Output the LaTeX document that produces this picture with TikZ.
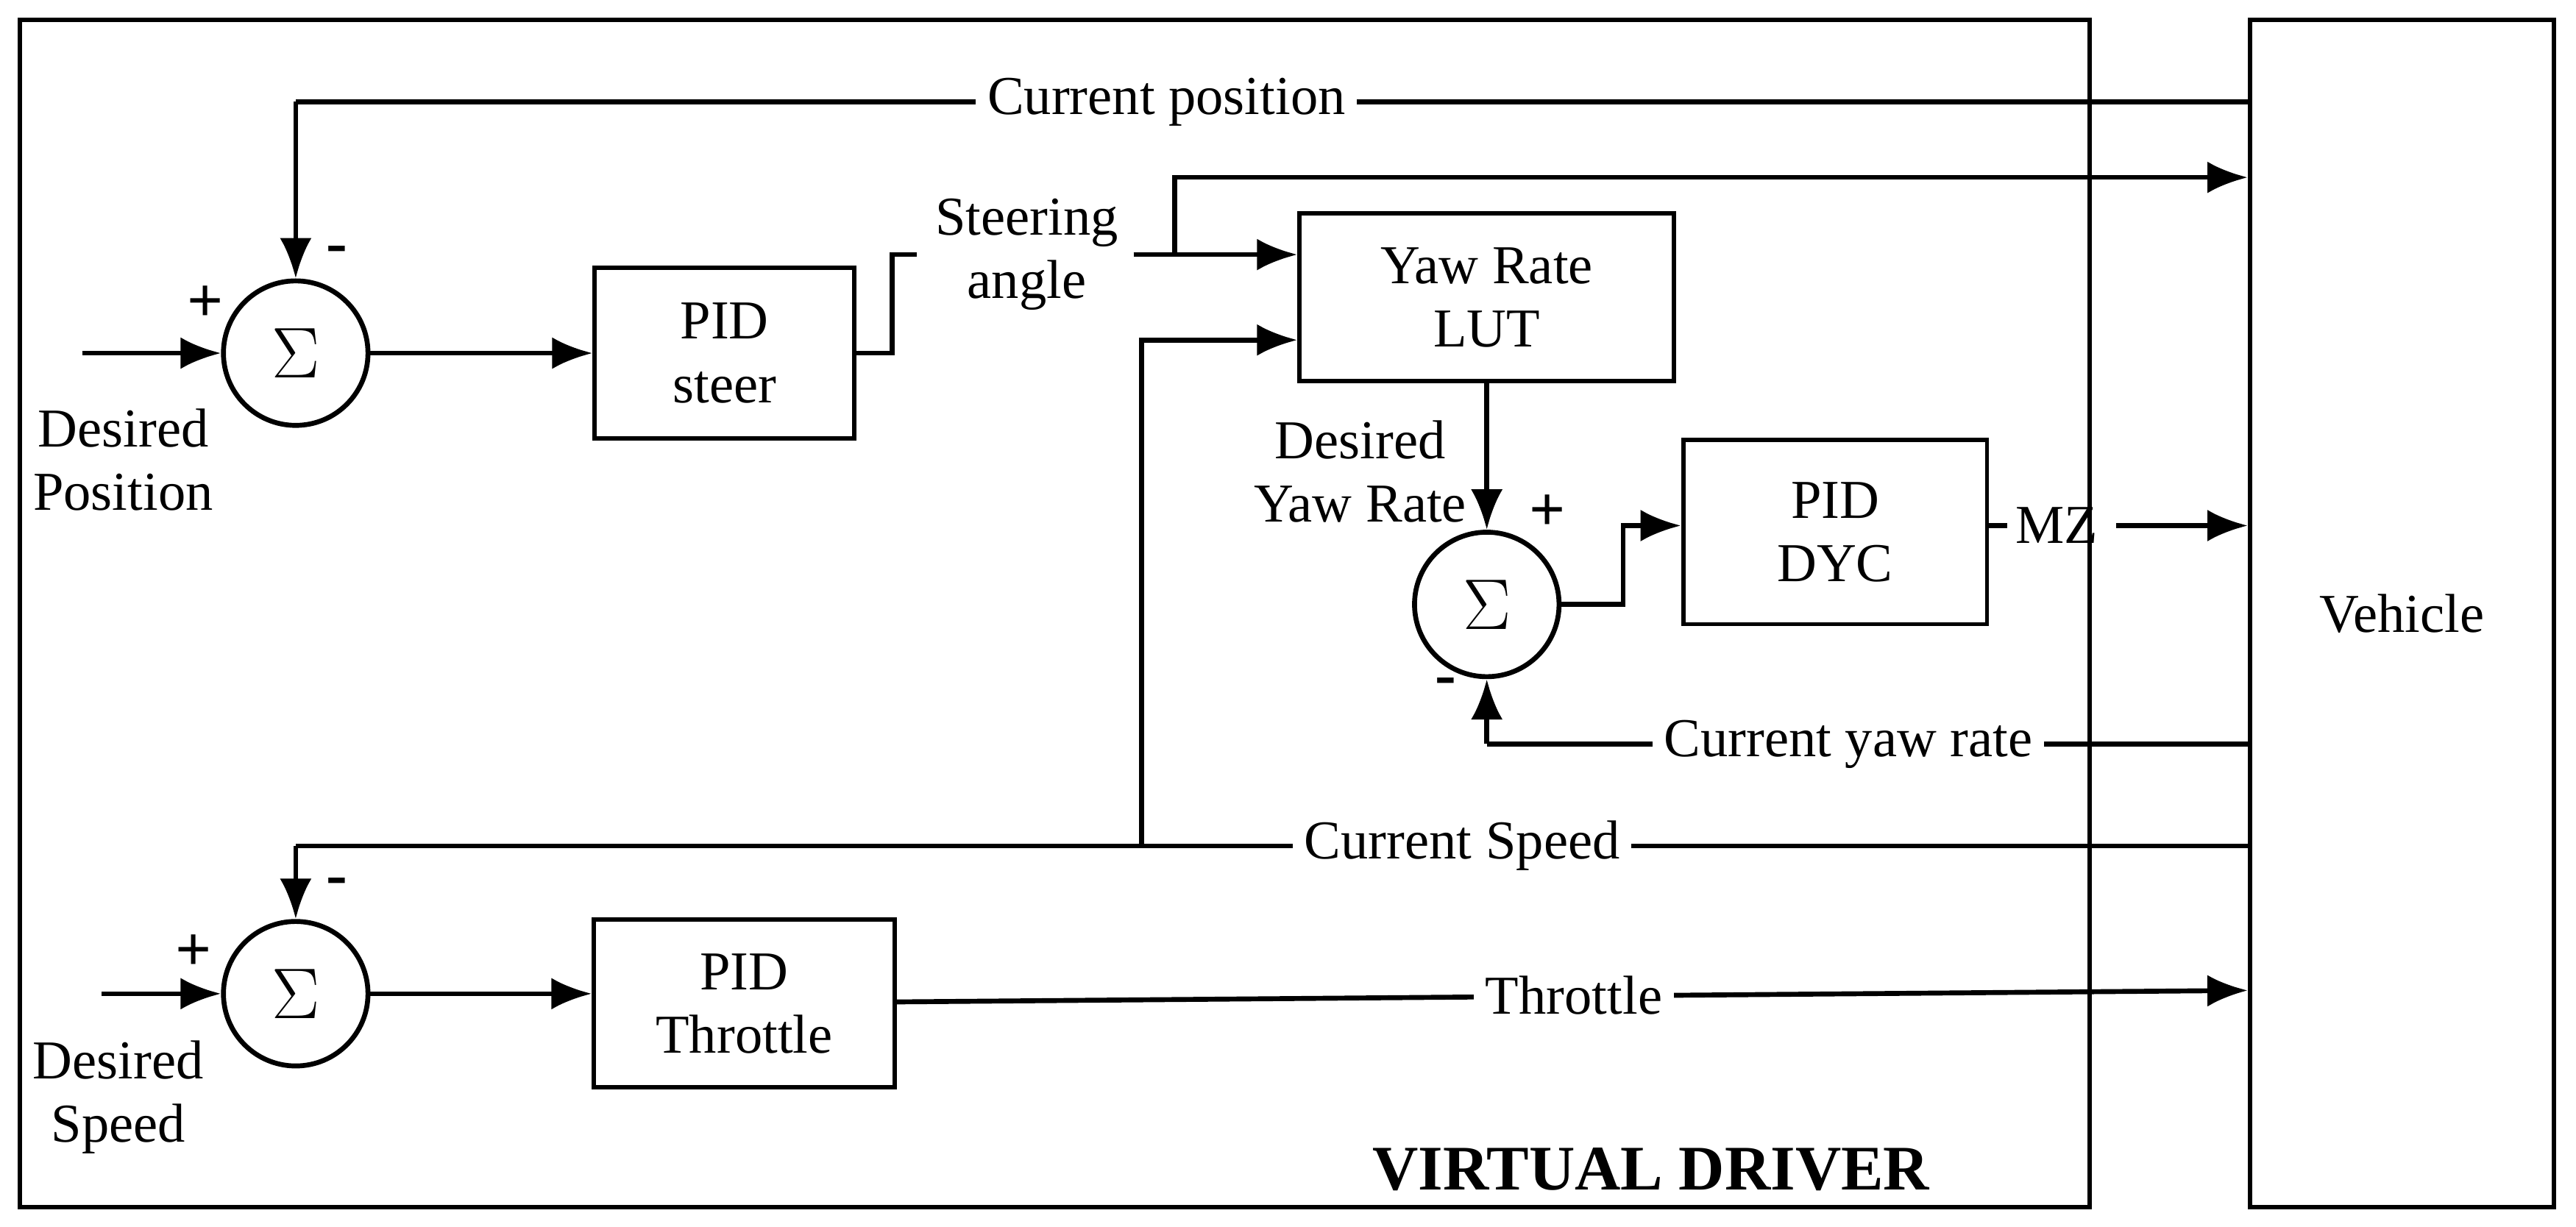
\documentclass[tikz,border=0pt]{standalone}
\usepackage{fontspec}
\setmainfont{Liberation Serif}
\usetikzlibrary{arrows.meta}
\begin{document}
\begin{tikzpicture}[x=0.02cm,y=-0.02cm,
  every node/.style={font=\fontsize{19}{22}\selectfont},
  ln/.style={line width=1.7pt},
  ar/.style={ln,-{Latex[length=14pt,width=11pt]}},
  blk/.style={draw,line width=1.5pt,align=center,inner sep=0pt},
  sum/.style={draw,circle,line width=1.7pt,minimum size=1.76cm,inner sep=0pt,font=\fontsize{28}{30}\selectfont},
  lbl/.style={fill=white,inner sep=4pt,align=center},
  sg/.style={font=\bfseries\fontsize{22}{24}\selectfont}]
\useasboundingbox (0,0) rectangle (1568,747);
\draw[line width=1.5pt] (12,12) rectangle (1272,735);
\node[blk,minimum width=3.7cm,minimum height=14.46cm] (veh) at (1462,373.5) {Vehicle};
\node[sum] (s1) at (180,215) {$\Sigma$};
\node[sum] (s2) at (905,368) {$\Sigma$};
\node[sum] (s3) at (180,605) {$\Sigma$};
\node[blk,minimum width=3.16cm,minimum height=2.08cm] (pst) at (441,215) {PID\\steer};
\node[blk,minimum width=4.56cm,minimum height=2.04cm] (lut) at (905,181) {Yaw Rate\\LUT};
\node[blk,minimum width=3.7cm,minimum height=2.24cm] (dyc) at (1117,324) {PID\\DYC};
\node[blk,minimum width=3.66cm,minimum height=2.04cm] (pth) at (453,611) {PID\\Throttle};
\node[font=\bfseries\fontsize{22}{24}\selectfont] (vd) at (1005,712) {VIRTUAL DRIVER};
% current position
\coordinate (cp) at (1370,62);
\draw[ln] (cp) -- (180,62);
\node[lbl] at (710,62) {Current position};
\draw[ar] (180,62) -- (s1.north);
\node[sg] at (205,155) {-};
\node[sg] at (125,185) {+};
\coordinate (dp) at (50,215);
\draw[ar] (dp) -- (s1.west);
\node[align=center] at (75,280) {Desired\\Position};
\draw[ar] (s1.east) -- (pst.west);
% steering
\node[align=center] (st) at (625,155) {Steering\\angle};
\draw[ln] (pst.east) -- (543,215) -- (543,155) -- (558,155);
\draw[ar] (690,155) -- (lut.west |- 0,155);
\draw[ar] (715,155) -- (715,108) -- (veh.west |- 0,108);
% current speed
\draw[ln] (veh.west |- 0,515) -- (180,515);
\node[lbl] at (890,515) {Current Speed};
\draw[ar] (180,515) -- (s3.north);
\draw[ar] (695,515) -- (695,207) -- (lut.west |- 0,207);
% yaw
\draw[ar] (lut.south) -- (s2.north);
\node[align=center] at (828,287) {Desired\\Yaw Rate};
\node[sg] at (942,312) {+};
\draw[ar] (s2.east) -- (988,368) -- (988,320) -- (dyc.west |- 0,320);
\draw[ln] (dyc.east |- 0,320) -- (1222,320);
\node (mz) at (1252,320) {MZ};
\draw[ar] (1288,320) -- (veh.west |- 0,320);
\draw[ln] (veh.west |- 0,453) -- (905,453);
\node[lbl] at (1125,453) {Current yaw rate};
\draw[ar] (905,453) -- (s2.south);
\node[sg] at (880,418) {-};
% throttle
\node[sg] at (205,540) {-};
\node[sg] at (118,580) {+};
\coordinate (ds) at (62,605);
\draw[ar] (ds) -- (s3.west);
\node[align=center] at (72,668) {Desired\\Speed};
\draw[ar] (s3.east) -- (pth.west |- 0,605);
\draw[ar] (pth.east |- 0,610) -- (veh.west |- 0,603);
\node[lbl] at (958,606) {Throttle};
\end{tikzpicture}
\end{document}
